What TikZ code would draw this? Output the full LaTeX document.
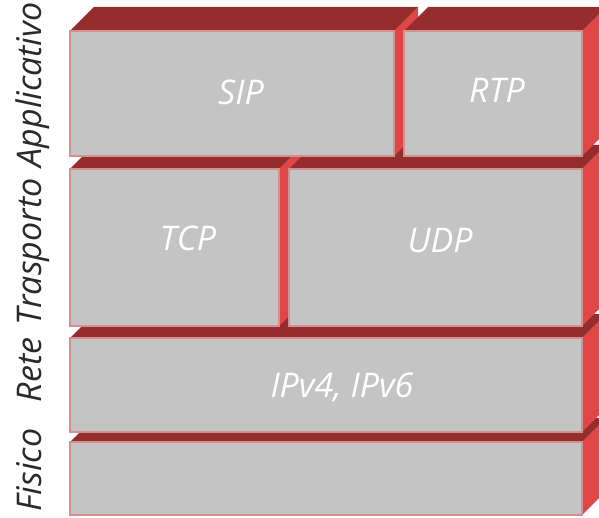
\documentclass[tikz,border=0pt]{standalone}
\usepackage{fontspec}
\setmainfont{Open Sans}
\definecolor{frontc}{HTML}{C4C4C4}
\definecolor{edgec}{HTML}{D49090}
\definecolor{topc}{HTML}{962D2D}
\definecolor{sidec}{HTML}{E04646}
\definecolor{layc}{HTML}{2A2A2A}
\tikzset{
  frontface/.style={fill=frontc, draw=edgec, line width=1.3pt},
  topface/.style={fill=topc},
  sideface/.style={fill=sidec},
  lbl/.style={text=white, font=\fontsize{34}{40}\selectfont\itshape, anchor=base, inner sep=0pt},
  layer/.style={text=layc, font=\fontsize{34}{40}\selectfont\itshape, anchor=base, rotate=90, inner sep=0pt}
}
\newcommand\blk[5]{%
  \fill[sideface] (#3,#2) -- ++(24,-24) -- (#3+24,#4-24) -- (#3,#4) -- cycle;
  \fill[topface] (#1,#2) -- ++(24,-24) -- (#3+24,#2-24) -- (#3,#2) -- cycle;
  \draw[frontface] (#1,#2) rectangle (#3,#4);
}
\begin{document}
\begin{tikzpicture}[x=1pt,y=-1pt]
\useasboundingbox (0,0) rectangle (599,518);
\clip (0,0) rectangle (599,518);
% Fisico
\blk{70}{442}{582}{515}{}
% Rete
\blk{70}{338}{582}{432}{}
\node[lbl] (ip) at (342,397) {IPv4, IPv6};
% Trasporto
\blk{70}{169}{279}{326}{}
\blk{289}{169}{582}{326}{}
\node[lbl] (tcp) at (188,251) {TCP};
\node[lbl] (udp) at (440,253) {UDP};
% Applicativo
\blk{70}{31}{394}{156}{}
\blk{404}{31}{582}{156}{}
\node[lbl] (sip) at (241,105) {SIP};
\node[lbl] (rtp) at (497,103) {RTP};
% layer names
\node[layer] (app) at (41,85) {Applicativo};
\node[layer] (tra) at (41,252) {Trasporto};
\node[layer] (ret) at (41,370) {Rete};
\node[layer] (fis) at (41,470) {Fisico};
\end{tikzpicture}
\end{document}
